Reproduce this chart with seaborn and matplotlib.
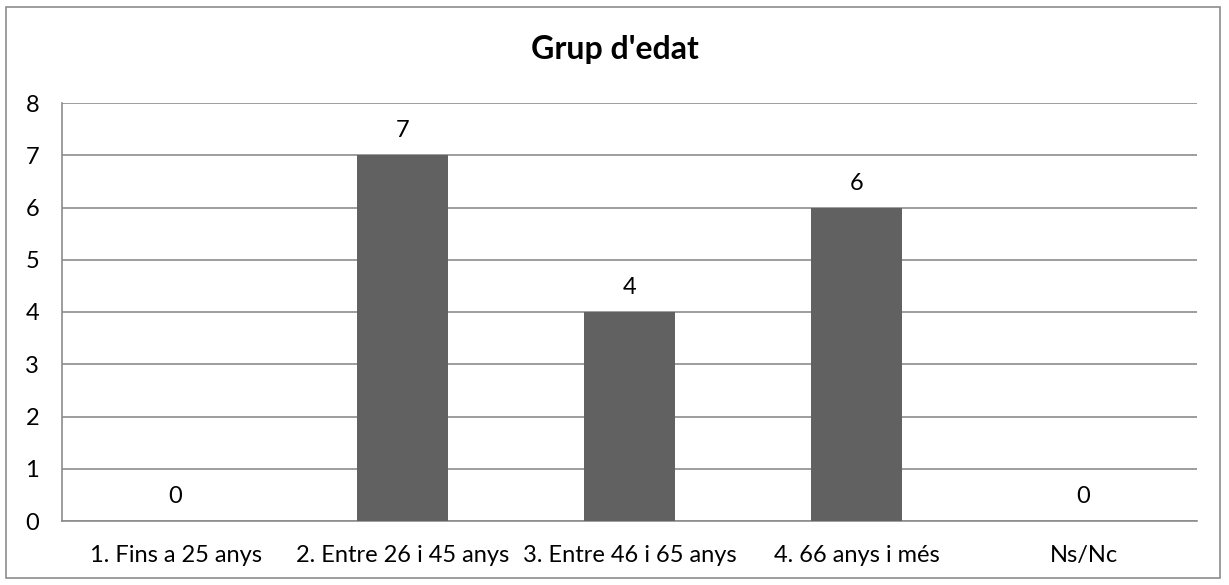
import matplotlib
matplotlib.use("Agg")
import matplotlib.pyplot as plt
import seaborn as sns
import pandas as pd
import numpy as np
from matplotlib.patches import Rectangle

# dades del gràfic
grups = ["1. Fins a 25 anys", "2. Entre 26 i 45 anys", "3. Entre 46 i 65 anys",
         "4. 66 anys i més", "Ns/Nc"]
valors = [0, 7, 4, 6, 0]
titol = "Grup d'edat"

df = pd.DataFrame({"grup": grups, "valor": valors})

sns.set_style("white")
plt.rcParams['font.family'] = ['Lato', 'DejaVu Sans']
plt.rcParams['text.color'] = "black"
plt.rcParams['xtick.labelcolor'] = "black"
plt.rcParams['ytick.labelcolor'] = "black"

fig = plt.figure(figsize=(12.29, 5.85), dpi=100)
ax = fig.add_axes([62 / 1229, 1 - 521 / 585, (1197 - 62) / 1229, (521 - 103) / 585])

sns.barplot(data=df, x="grup", y="valor", color="#616161", saturation=1,
            width=0.4, linewidth=0, ax=ax, zorder=3)

for c in ax.containers:
    ax.bar_label(c, fmt="%d", padding=10, fontsize=17, color="black")

ax.set_ylim(0, 8)
ax.set_xlim(-0.5, len(grups) - 0.5)
ax.set_yticks(range(0, 9))
ax.yaxis.grid(True, color="#8c8c8c", linewidth=1.2, zorder=0)
ax.set_axisbelow(True)
ax.set_xlabel("")
ax.set_ylabel("")

for s in ["top", "right"]:
    ax.spines[s].set_visible(False)
for s in ["left", "bottom"]:
    ax.spines[s].set_color("#8c8c8c")
    ax.spines[s].set_linewidth(1.2)

ax.tick_params(axis="y", length=4.5, width=1.2, color="#8c8c8c", labelsize=17, pad=12)
ax.tick_params(axis="x", which="major", length=0, labelsize=17, pad=17)
ax.set_xticks(np.arange(-0.5, len(grups)), minor=True)
ax.tick_params(axis="x", which="minor", length=6, width=1.2, color="#8c8c8c")

fig.text(0.5, 1 - 49 / 585, titol, ha="center", va="center",
         fontsize=23, fontweight="bold", color="black")

fig.patches.append(Rectangle((6 / 1229, 1 - 578 / 585), 1214 / 1229, 571 / 585,
                             transform=fig.transFigure, fill=False,
                             edgecolor="#8c8c8c", linewidth=1.2))

fig.savefig("out.png", dpi=100)
